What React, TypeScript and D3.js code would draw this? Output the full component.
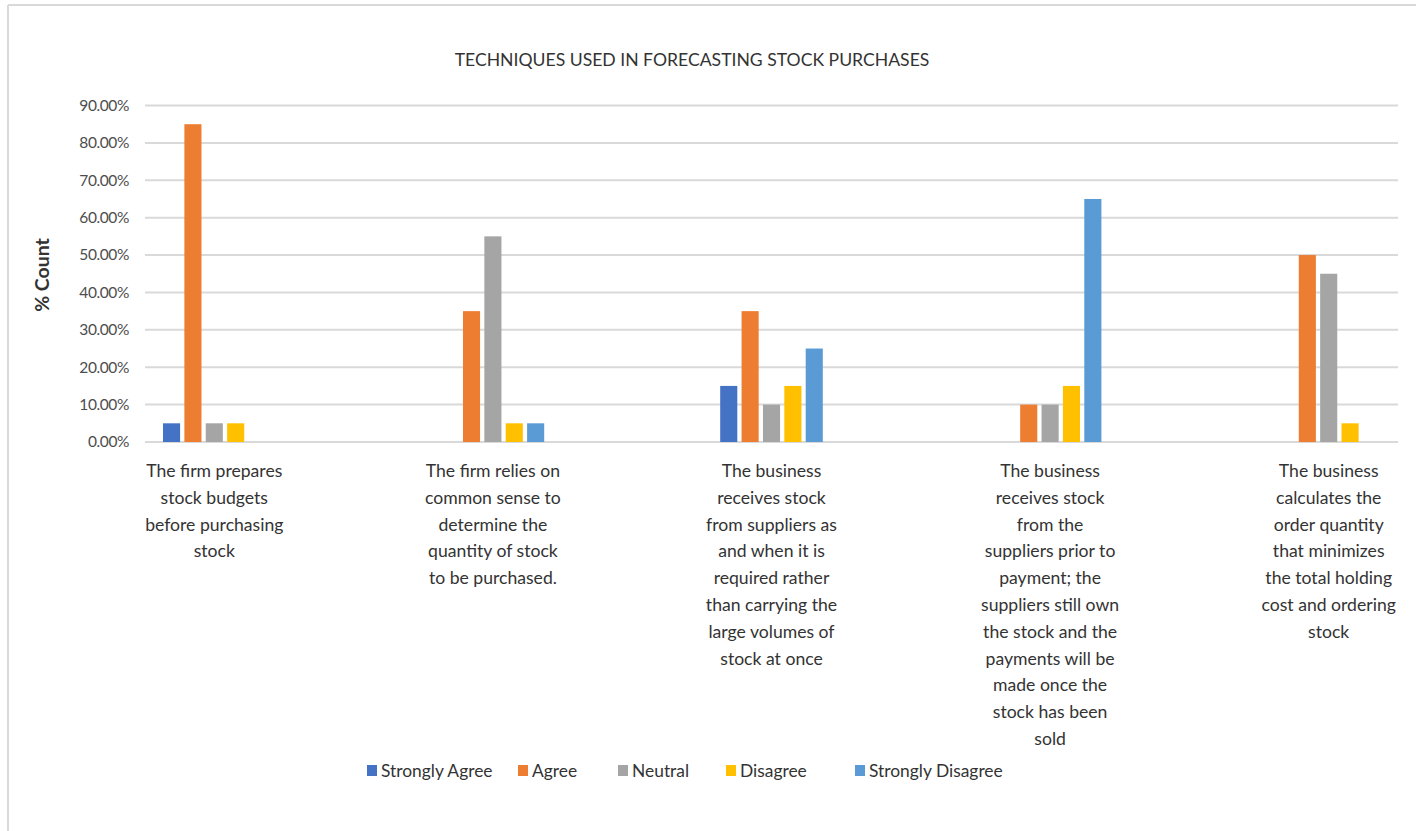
import React from "react";
import * as d3 from "d3";

const categories: string[][] = [
  ["The firm prepares", "stock budgets", "before purchasing", "stock"],
  ["The firm relies on", "common sense to", "determine the", "quantity of stock", "to be purchased."],
  ["The business", "receives stock", "from suppliers as", "and when it is", "required rather", "than carrying the", "large volumes of", "stock at once"],
  ["The business", "receives stock", "from the", "suppliers prior to", "payment; the", "suppliers still own", "the stock and the", "payments will be", "made once the", "stock has been", "sold"],
  ["The business", "calculates the", "order quantity", "that minimizes", "the total holding", "cost and ordering", "stock"],
];

const seriesNames = ["Strongly Agree", "Agree", "Neutral", "Disagree", "Strongly Disagree"];
const seriesColors = ["#4472C4", "#ED7D31", "#A5A5A5", "#FFC000", "#5B9BD5"];

// percentage per category, one array per response
const stronglyAgree = [5, 0, 15, 0, 0];
const agree = [85, 35, 35, 10, 50];
const neutral = [5, 55, 10, 10, 45];
const disagree = [5, 5, 15, 15, 5];
const stronglyDisagree = [0, 5, 25, 65, 0];
const seriesValues = [stronglyAgree, agree, neutral, disagree, stronglyDisagree];

const yTicks = [0, 10, 20, 30, 40, 50, 60, 70, 80, 90];

const W = 1416;
const H = 831;
const FONT = "Lato, 'Open Sans', sans-serif";

export default function App() {
  const plotLeft = 145;
  const plotRight = 1398;
  const y = d3.scaleLinear().domain([0, 90]).range([442, 105.5]);
  const catIdx = categories.map((_, i) => String(i));
  const x = d3.scalePoint<string>().domain(catIdx).range([214.3, 1328.7]);
  const inner = d3
    .scaleBand<string>()
    .domain(seriesNames)
    .range([-51.3, 51.3])
    .paddingInner(0.2);

  const legendX = [367, 518, 618, 726, 855];

  return (
    <svg
      width={W}
      height={H}
      style={{ position: "absolute", left: 0, top: 0, background: "#fff" }}
      fontFamily={FONT}
    >
      <rect x={0} y={0} width={W} height={H} fill="#fff" />
      {/* chart frame */}
      <line x1={8} x2={W} y1={5} y2={5} stroke="#d9d9d9" strokeWidth={2} />
      <line x1={8} x2={8} y1={5} y2={H} stroke="#d9d9d9" strokeWidth={2} />

      <text x={692} y={66} textAnchor="middle" fontSize={17.6} fill="#333">
        TECHNIQUES USED IN FORECASTING STOCK PURCHASES
      </text>

      {/* gridlines and y tick labels */}
      {yTicks.map((t) => (
        <g key={t}>
          <line
            x1={plotLeft}
            x2={plotRight}
            y1={y(t)}
            y2={y(t)}
            stroke="#d9d9d9"
            strokeWidth={2}
          />
          <text
            x={129}
            y={y(t)}
            dy="0.35em"
            textAnchor="end"
            fontSize={15.5}
            fill="#4d4d4d"
            letterSpacing={-0.4}
          >
            {t.toFixed(2)}%
          </text>
        </g>
      ))}

      <text
        transform="translate(49,275) rotate(-90)"
        textAnchor="middle"
        fontSize={19.5}
        fontWeight="bold"
        fill="#333"
      >
        % Count
      </text>

      {/* bars */}
      {seriesValues.map((vals, s) =>
        vals.map((v, c) =>
          v > 0 ? (
            <rect
              key={`${s}-${c}`}
              x={(x(String(c)) as number) + (inner(seriesNames[s]) as number)}
              y={y(v)}
              width={inner.bandwidth()}
              height={y(0) - y(v)}
              fill={seriesColors[s]}
            />
          ) : null
        )
      )}

      {/* category labels */}
      {categories.map((lines, c) => (
        <text
          key={c}
          x={x(String(c))}
          y={477}
          textAnchor="middle"
          fontSize={17.6}
          fill="#333"
        >
          {lines.map((ln, i) => (
            <tspan key={i} x={x(String(c))} dy={i === 0 ? 0 : 26.8}>
              {ln}
            </tspan>
          ))}
        </text>
      ))}

      {/* legend */}
      {seriesNames.map((n, i) => (
        <g key={n}>
          <rect x={legendX[i]} y={765} width={10} height={11} fill={seriesColors[i]} />
          <text x={legendX[i] + 14} y={771} dy="0.35em" fontSize={17.4} fill="#333">
            {n}
          </text>
        </g>
      ))}
    </svg>
  );
}
